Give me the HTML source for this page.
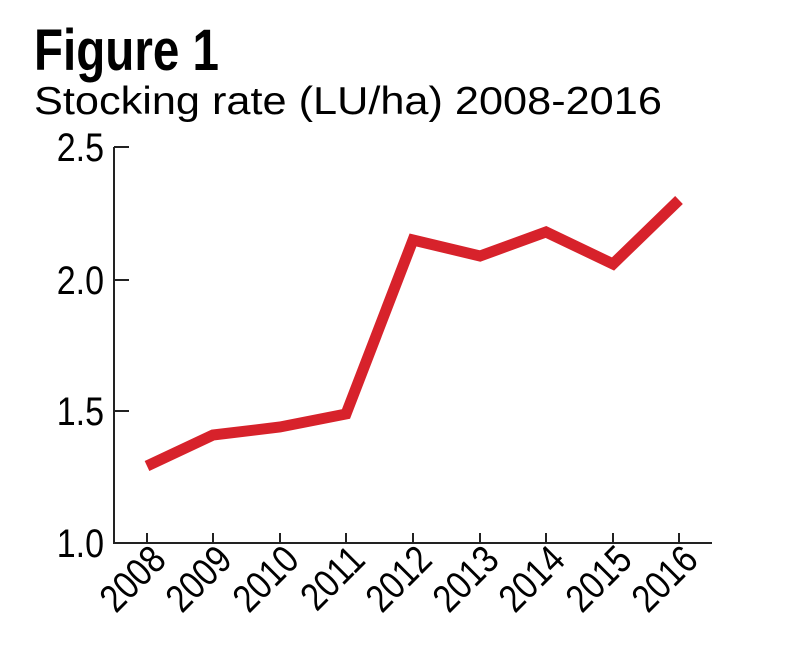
<!DOCTYPE html>
<html><head><style>
body{margin:0;background:#fff;width:790px;height:645px;overflow:hidden}
</style></head><body>
<svg width="790" height="645" xmlns="http://www.w3.org/2000/svg" font-family="Liberation Sans, sans-serif">
<text font-size="58" font-weight="bold" transform="translate(34 70) scale(0.82 1)">Figure 1</text>
<text font-size="39" transform="translate(34 114) scale(1.11 1)">Stocking rate (LU/ha) 2008-2016</text>
<g stroke="#222" stroke-width="2" fill="none">
<path d="M114 147 V543 H712"/>
<path d="M114 147 H129 M114 280 H129 M114 411 H129"/>
<path d="M147 543 V533 M213 543 V533 M280 543 V533 M346 543 V533 M413 543 V533 M480 543 V533 M546 543 V533 M613 543 V533 M679 543 V533"/>
</g>
<g font-size="40" text-anchor="end">
<text transform="translate(104 161) scale(0.85 1)">2.5</text>
<text transform="translate(104 294) scale(0.85 1)">2.0</text>
<text transform="translate(104 425) scale(0.85 1)">1.5</text>
<text transform="translate(104 557) scale(0.85 1)">1.0</text>
</g>
<g font-size="39" text-anchor="end">
<text transform="translate(168 562) rotate(-45) scale(0.85 1)">2008</text>
<text transform="translate(234 562) rotate(-45) scale(0.85 1)">2009</text>
<text transform="translate(301 562) rotate(-45) scale(0.85 1)">2010</text>
<text transform="translate(367 562) rotate(-45) scale(0.85 1)">2011</text>
<text transform="translate(434 562) rotate(-45) scale(0.85 1)">2012</text>
<text transform="translate(501 562) rotate(-45) scale(0.85 1)">2013</text>
<text transform="translate(567 562) rotate(-45) scale(0.85 1)">2014</text>
<text transform="translate(634 562) rotate(-45) scale(0.85 1)">2015</text>
<text transform="translate(700 562) rotate(-45) scale(0.85 1)">2016</text>
</g>
<polyline points="147,466 213,435 280,427 346,414 413,240 480,256 546,232 613,264 679,200" fill="none" stroke="#d7222b" stroke-width="11" stroke-linejoin="miter"/>
</svg>
</body></html>
